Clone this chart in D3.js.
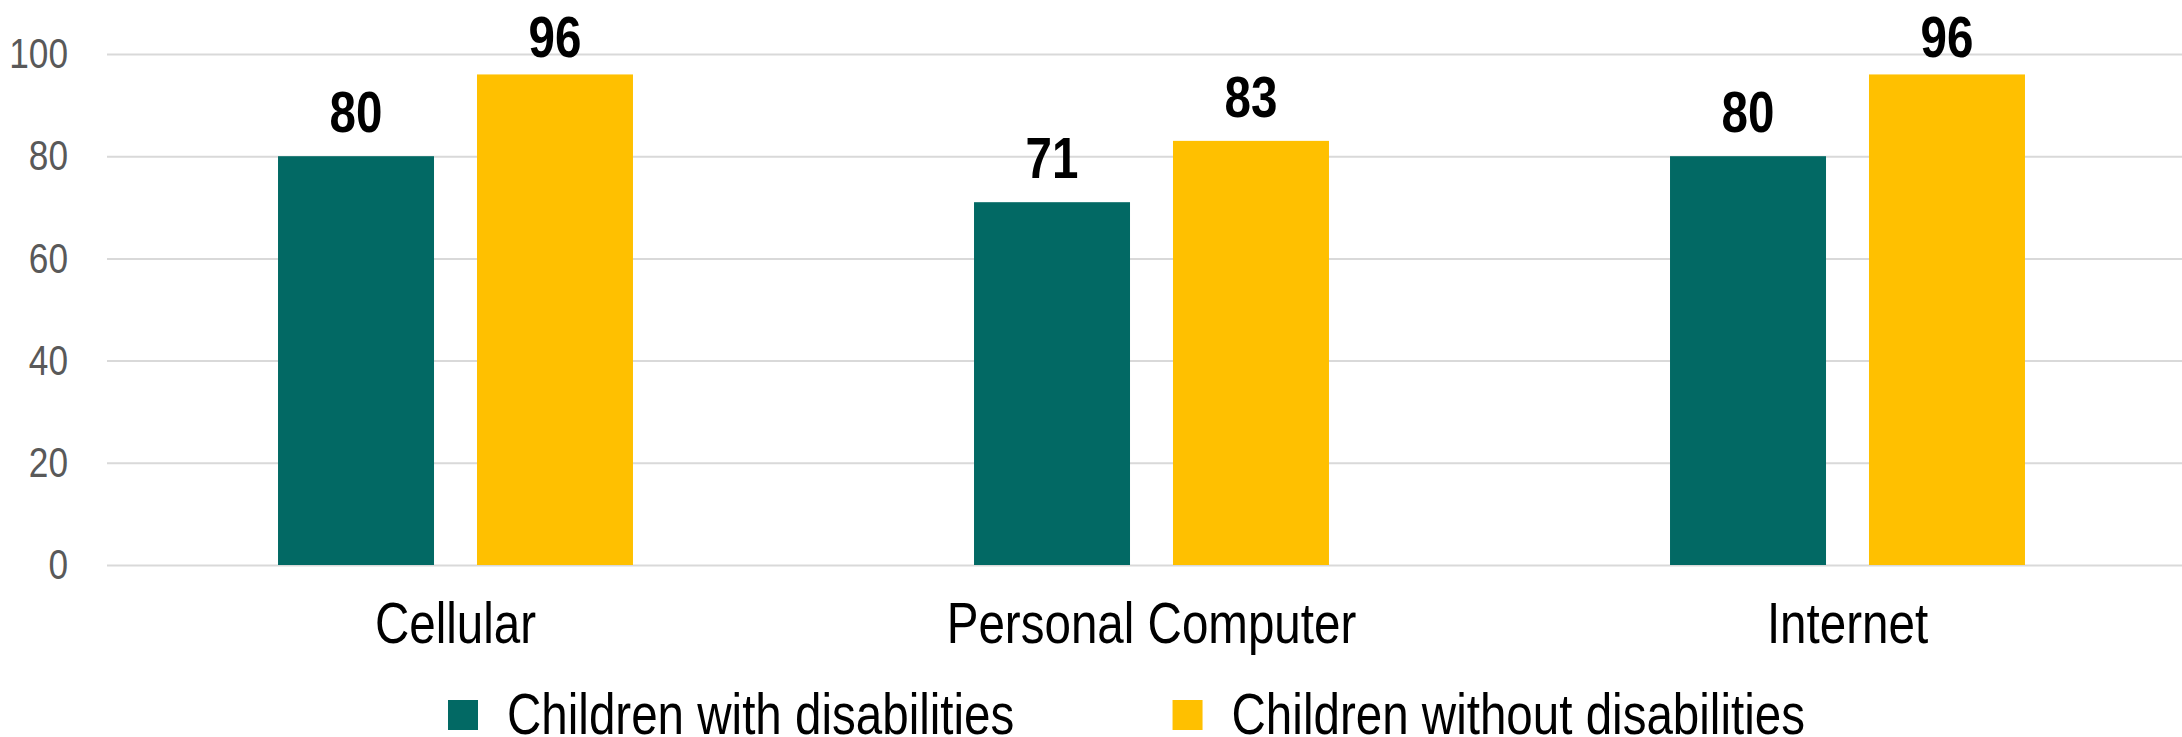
<!DOCTYPE html>
<html>
  <head>
    <meta http-equiv="Content-Type" content="text/html;charset=utf-8"/>
    <title>Access to devices</title>
    <script src="https://d3js.org/d3.v7.min.js"></script>
    <style>
      body { margin: 0; background: #fff; }
      text { font-family: "Liberation Sans", Arial, sans-serif; }
    </style>
  </head>
  <body>
    <div id="content"></div>
    <script type="text/javascript">

        // chart data
        const categories = ['Cellular', 'Personal Computer', 'Internet']
        const series = ['Children with disabilities', 'Children without disabilities']
        const withDisabilities = [80, 71, 80]
        const withoutDisabilities = [96, 83, 96]
        const yTicks = [0, 20, 40, 60, 80, 100]
        const colors = ['#026964', '#ffc000']

        const width = 2182,
            height = 737,
            squeeze = 0.82   // the original uses a narrow face; squash Liberation Sans to match

        const data = categories.map((c, i) => ({
            category: c,
            values: [
                { key: series[0], value: withDisabilities[i] },
                { key: series[1], value: withoutDisabilities[i] }
            ]
        }))

        // move x/y into a transform so the text can be squeezed around its anchor
        function narrow(sel) {
            sel.each(function() {
                const t = d3.select(this)
                const x = +t.attr('x') || 0, y = +t.attr('y') || 0
                t.attr('x', 0).attr('y', 0)
                    .attr('transform', 'translate(' + x + ',' + y + ') scale(' + squeeze + ',1)')
            })
        }

        const svg = d3.select('#content').append('svg')
            .attr('width', width).attr('height', height)

        const x0 = d3.scaleBand()
            .domain(categories)
            .range([107.5, 2195.5])
            .paddingInner(0.49)
            .paddingOuter(0.245)

        const x1 = d3.scaleBand()
            .domain(series)
            .range([0, x0.bandwidth()])
            .paddingInner(0.216)

        const color = d3.scaleOrdinal().domain(series).range(colors)

        const y = d3.scaleLinear()
            .domain([0, 100])
            .range([565, 54])

        // gridlines + tick labels
        const yAxis = d3.axisLeft(y)
            .tickValues(yTicks)
            .tickSize(-(width - 107))
            .tickPadding(39)

        const gy = svg.append('g')
            .attr('transform', 'translate(107,0)')
            .call(yAxis)
        gy.select('.domain').remove()
        gy.selectAll('.tick line').attr('stroke', '#d9d9d9').attr('stroke-width', 2)
        gy.selectAll('.tick text')
            .attr('fill', '#595959')
            .style('font-size', '43px')
            .call(narrow)

        // bars
        const groups = svg.selectAll('g.group')
            .data(data)
            .enter()
            .append('g')
            .attr('class', 'group')
            .attr('transform', d => 'translate(' + x0(d.category) + ',0)')

        groups.selectAll('rect')
            .data(d => d.values)
            .enter()
            .append('rect')
            .attr('x', d => x1(d.key))
            .attr('y', d => y(d.value))
            .attr('width', x1.bandwidth())
            .attr('height', d => y(0) - y(d.value))
            .attr('fill', d => color(d.key))

        // value labels, kept inside the top edge
        const labelTop = 15, capHeight = 42
        groups.selectAll('text.value')
            .data(d => d.values)
            .enter()
            .append('text')
            .attr('class', 'value')
            .attr('x', d => x1(d.key) + x1.bandwidth() / 2)
            .attr('y', d => Math.max(y(d.value) - 24, labelTop + capHeight))
            .attr('text-anchor', 'middle')
            .style('font-size', '58px')
            .style('font-weight', 'bold')
            .attr('fill', '#000')
            .text(d => d.value)
            .call(narrow)

        // category labels
        svg.selectAll('text.cat')
            .data(categories)
            .enter()
            .append('text')
            .attr('class', 'cat')
            .attr('x', d => x0(d) + x0.bandwidth() / 2)
            .attr('y', 643)
            .attr('text-anchor', 'middle')
            .style('font-size', '58px')
            .attr('fill', '#000')
            .text(d => d)
            .call(narrow)

        // legend
        const legend = svg.append('g').attr('class', 'legend')
        let lx = 448
        series.forEach((s, i) => {
            legend.append('rect')
                .attr('x', lx).attr('y', 700)
                .attr('width', 30).attr('height', 30)
                .attr('fill', color(s))
            const t = legend.append('text')
                .attr('x', lx + 59).attr('y', 734)
                .style('font-size', '58px')
                .attr('fill', '#000')
                .text(s)
            const w = t.node().getComputedTextLength() * squeeze
            t.call(narrow)
            lx += 59 + w + 158
        })

    </script>
  </body>
</html>
